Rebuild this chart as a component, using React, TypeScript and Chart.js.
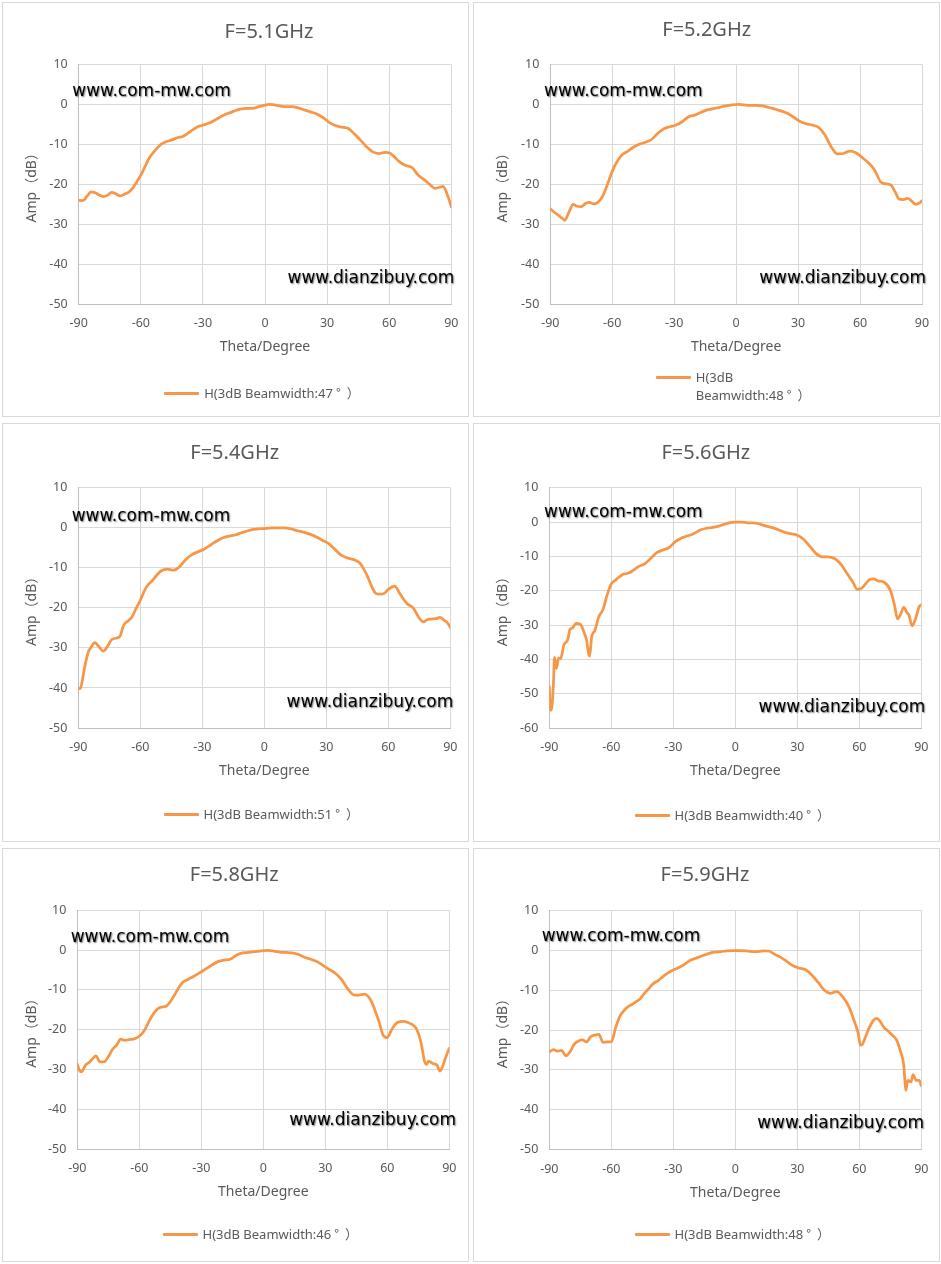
import React, { useEffect, useRef } from 'react';
import Chart from 'chart.js/auto';

const THETA_51 = [-90, -88, -86, -84, -82, -80, -78, -76, -74, -72, -70, -68, -66, -64, -62, -60, -58, -56, -54, -52, -50, -48, -45, -42, -40, -38, -35, -32, -30, -27, -24, -21, -18, -15, -12, -9, -6, -3, 0, 2, 4, 7, 10, 13, 16, 19, 22, 25, 28, 31, 34, 37, 40, 43, 46, 49, 52, 55, 58, 60, 62, 65, 68, 71, 74, 77, 80, 82, 84, 86, 88, 90];
const AMP_51 = [-24.0, -24.1, -23.0, -21.9, -22.1, -22.7, -23.1, -22.7, -22.0, -22.4, -22.9, -22.5, -22.0, -21.0, -19.4, -17.7, -15.6, -13.5, -12.1, -10.9, -9.9, -9.4, -8.9, -8.3, -8.1, -7.5, -6.4, -5.5, -5.2, -4.7, -3.9, -3.0, -2.3, -1.7, -1.2, -1.0, -1.0, -0.6, -0.2, 0, -0.1, -0.4, -0.6, -0.6, -0.9, -1.4, -1.9, -2.4, -3.3, -4.5, -5.3, -5.7, -6.0, -7.3, -8.9, -10.6, -11.9, -12.3, -12.0, -12.1, -12.9, -14.4, -15.3, -15.8, -17.7, -18.9, -20.2, -21.0, -20.8, -20.5, -22.5, -25.6];

const THETA_52 = [-90, -88, -86, -84, -83, -81, -79, -77, -75, -73, -71, -69, -67, -65, -63, -61, -59, -57, -55, -53, -50, -47, -44, -41, -38, -35, -32, -29, -26, -23, -20, -17, -14, -11, -8, -5, -2, 1, 4, 7, 10, 13, 16, 19, 22, 25, 28, 31, 34, 37, 40, 43, 46, 49, 52, 55, 58, 61, 64, 67, 70, 73, 75, 77, 79, 81, 83, 85, 87, 89, 90];
const AMP_52 = [-26.1, -27.0, -27.8, -28.6, -29.0, -27.0, -25.0, -25.5, -25.6, -24.8, -24.5, -24.9, -24.5, -23.3, -21.0, -18.1, -15.6, -13.8, -12.5, -11.9, -10.8, -10.0, -9.5, -8.8, -7.3, -6.1, -5.6, -5.2, -4.3, -3.1, -2.7, -2.0, -1.4, -1.1, -0.75, -0.4, -0.15, 0, -0.15, -0.25, -0.25, -0.4, -0.8, -1.25, -1.7, -2.3, -3.3, -4.3, -4.9, -5.2, -5.8, -7.7, -10.6, -12.4, -12.3, -11.7, -12.1, -13.3, -14.6, -16.4, -19.4, -19.9, -20.2, -21.9, -23.7, -23.8, -23.5, -24.2, -25.0, -24.6, -24.1];

const THETA_54 = [-90, -89, -88, -87, -86, -85, -84, -82, -80, -78, -76, -74, -72, -70, -68, -66, -64, -62, -60, -58, -56, -54, -52, -50, -47, -44, -41, -38, -35, -32, -29, -26, -23, -20, -17, -14, -11, -8, -5, -2, 1, 4, 7, 10, 13, 16, 19, 22, 25, 28, 31, 34, 37, 40, 43, 46, 48, 50, 52, 54, 56, 58, 60, 63, 66, 69, 72, 75, 77, 79, 81, 83, 85, 87, 89, 90];
const AMP_54 = [-40.2, -40.1, -38.0, -35.0, -32.6, -30.8, -30.0, -28.7, -29.7, -30.8, -29.7, -28.0, -27.6, -27.2, -24.3, -23.3, -22.2, -20.1, -18.1, -15.7, -14.1, -13.1, -11.8, -10.8, -10.3, -10.6, -9.7, -7.9, -6.7, -6.0, -5.3, -4.3, -3.3, -2.5, -2.1, -1.8, -1.25, -0.75, -0.4, -0.25, -0.15, 0, 0, 0, -0.3, -0.75, -1.1, -1.6, -2.25, -3.1, -3.9, -5.3, -6.8, -7.5, -7.9, -8.7, -10.2, -12.2, -14.7, -16.4, -16.6, -16.4, -15.4, -14.6, -16.8, -18.9, -20.0, -22.6, -23.5, -22.9, -22.8, -22.7, -22.4, -23.1, -24.0, -24.9];

const THETA_56 = [-90, -89.5, -89, -88, -87.5, -86.5, -85.5, -84.5, -83, -81, -80, -79, -77, -75, -73, -72, -71, -70.5, -69.5, -68, -66, -64, -62, -60, -58, -56, -54, -52, -50, -47, -44, -41, -38, -35, -32, -29, -26, -23, -20, -17, -14, -11, -8, -5, -2, 0, 3, 6, 9, 12, 15, 18, 21, 24, 27, 30, 33, 36, 39, 42, 45, 48, 51, 54, 57, 59, 61, 63, 65, 67, 69, 72, 75, 77, 78.5, 80, 81.5, 83, 84, 85.5, 87, 89, 90];
const AMP_56 = [-47.9, -54.7, -54.7, -46.9, -39.4, -42.6, -39.5, -39.7, -35.8, -34.1, -31.2, -30.9, -29.5, -29.7, -32.4, -34.3, -38.2, -39.0, -33.4, -31.6, -27.5, -25.4, -21.2, -18.0, -16.9, -15.9, -15.1, -14.9, -14.3, -13.0, -12.2, -10.6, -8.9, -8.1, -7.4, -5.7, -4.6, -4.0, -3.3, -2.3, -1.8, -1.55, -1.2, -0.6, -0.1, 0, 0, -0.2, -0.2, -0.6, -1.2, -1.6, -2.3, -3.0, -3.4, -3.8, -5.0, -7.0, -9.1, -10.1, -10.1, -10.6, -12.2, -14.9, -17.6, -19.6, -19.3, -18.0, -16.7, -16.5, -17.1, -17.5, -19.8, -24.1, -28.2, -26.8, -24.8, -26.3, -27.0, -30.2, -28.5, -24.6, -24.1];

const THETA_58 = [-90, -89, -88, -86, -84, -82, -81, -79, -77, -75, -73, -71, -69, -67, -65, -63, -61, -59, -57, -55, -53, -51, -49, -47, -45, -43, -41, -39, -37, -34, -31, -28, -25, -22, -19, -16, -13, -10, -7, -4, -1, 2, 5, 8, 11, 14, 17, 20, 23, 26, 29, 32, 35, 38, 41, 44, 46, 49, 52, 54, 56, 58, 60, 62, 64, 66, 68, 70, 72, 74, 76, 77, 78, 79, 80, 82, 84, 85.5, 87, 88.5, 90];
const AMP_58 = [-28.7, -30.2, -30.6, -28.9, -28.1, -27.0, -26.6, -28.1, -28.1, -26.8, -25.0, -23.9, -22.4, -22.7, -22.5, -22.4, -22.0, -21.2, -19.7, -17.6, -15.9, -14.7, -14.3, -14.1, -13.0, -11.3, -9.5, -8.1, -7.5, -6.7, -5.8, -4.8, -3.8, -2.9, -2.5, -2.3, -1.3, -0.7, -0.6, -0.4, -0.2, -0.1, -0.25, -0.5, -0.6, -0.7, -1.1, -1.8, -2.3, -2.9, -3.9, -4.9, -5.9, -7.5, -9.8, -11.3, -11.3, -11.1, -12.6, -15.1, -18.0, -21.4, -22.0, -20.1, -18.6, -18.0, -17.9, -18.2, -18.7, -19.7, -22.6, -25.1, -27.9, -28.7, -27.9, -28.5, -28.9, -30.4, -28.9, -26.6, -24.7];

const THETA_59 = [-90, -88, -86, -84, -82, -80, -78, -76, -74, -72, -70, -68, -66, -64, -62, -60, -58, -56, -54, -52, -50, -48, -46, -44, -42, -40, -37, -34, -31, -28, -25, -22, -19, -16, -13, -10, -7, -4, -1, 2, 5, 8, 11, 14, 16, 19, 22, 25, 28, 31, 34, 37, 40, 43, 46, 49, 52, 55, 58, 59.5, 60.5, 61.5, 63, 65, 67, 68.5, 70, 72, 74, 76, 78, 80, 81.5, 82, 82.5, 83.5, 85, 86, 87.5, 89, 90];
const AMP_59 = [-25.5, -24.9, -25.3, -25.1, -26.5, -25.5, -23.6, -22.8, -22.5, -23.0, -21.7, -21.3, -21.1, -23.1, -23.0, -23.0, -19.6, -16.7, -15.2, -14.2, -13.6, -12.9, -12.2, -10.8, -9.7, -8.5, -7.5, -6.2, -5.2, -4.5, -3.7, -2.6, -2.0, -1.4, -0.85, -0.5, -0.35, -0.15, -0.1, -0.1, -0.15, -0.35, -0.35, -0.15, -0.2, -1.0, -1.8, -2.85, -3.9, -4.5, -4.9, -6.2, -8.0, -10.0, -10.8, -10.4, -11.7, -14.2, -18.4, -20.9, -23.8, -23.6, -21.7, -19.2, -17.5, -17.1, -17.8, -19.4, -20.3, -21.3, -22.5, -25.5, -28.8, -32.2, -35.1, -32.6, -33.0, -31.2, -32.6, -32.6, -34.0];

const X_TICK_STEP = 30;
const Y_TICK_STEP = 10;
const Y_MAX = 10;

const ORANGE = '#F79646';
const GRID = '#D9D9D9';
const AXIS = '#BFBFBF';
const TEXT = '#595959';
const FONT = '"Noto Sans", "Noto Sans CJK SC", sans-serif';
const CJK_FONT = '"Noto Sans CJK SC", "Noto Sans", sans-serif';
const MARK_FONT = '"DejaVu Sans", Verdana, sans-serif';

const PANEL_W = 467;
const X_AXIS_H = 51.4;

interface PanelSpec {
  title: string;
  theta: number[];
  amp: number[];
  yMin: number;
  legend: string[];
  left: number;
  top: number;
  height: number;
  plotLeft: number;
  plotTop: number;
  plotW: number;
  plotH: number;
  titleX: number;
  titleY: number;
  legendY: number;
  comX: number;
  comY: number;
  dzRight: number;
  dzY: number;
}

const PANELS: PanelSpec[] = [
  {
    title: 'F=5.1GHz', theta: THETA_51, amp: AMP_51, yMin: -50, legend: ['H(3dB Beamwidth:47°）'],
    left: 2, top: 2, height: 415, plotLeft: 76.7, plotTop: 62.3, plotW: 372.6, plotH: 240,
    titleX: 267, titleY: 27.5, legendY: 391.3, comX: 70.3, comY: 87.5, dzRight: 452.3, dzY: 274.8,
  },
  {
    title: 'F=5.2GHz', theta: THETA_52, amp: AMP_52, yMin: -50, legend: ['H(3dB', 'Beamwidth:48°）'],
    left: 473, top: 2, height: 415, plotLeft: 77.3, plotTop: 62.3, plotW: 371.7, plotH: 240,
    titleX: 233.7, titleY: 25.5, legendY: 375.3, comX: 71, comY: 87.5, dzRight: 453, dzY: 274.5,
  },
  {
    title: 'F=5.4GHz', theta: THETA_54, amp: AMP_54, yMin: -50, legend: ['H(3dB Beamwidth:51°）'],
    left: 2, top: 423, height: 419, plotLeft: 76.3, plotTop: 64.7, plotW: 372, plotH: 240.3,
    titleX: 232.7, titleY: 27.5, legendY: 391.3, comX: 69.7, comY: 91.5, dzRight: 451.3, dzY: 278.1,
  },
  {
    title: 'F=5.6GHz', theta: THETA_56, amp: AMP_56, yMin: -60, legend: ['H(3dB Beamwidth:40°）'],
    left: 473, top: 423, height: 419, plotLeft: 76.3, plotTop: 64.7, plotW: 372, plotH: 240.6,
    titleX: 232.8, titleY: 27.5, legendY: 392, comX: 71, comY: 87.5, dzRight: 452.3, dzY: 282.5,
  },
  {
    title: 'F=5.8GHz', theta: THETA_58, amp: AMP_58, yMin: -50, legend: ['H(3dB Beamwidth:46°）'],
    left: 2, top: 848, height: 414, plotLeft: 75.3, plotTop: 62.3, plotW: 372, plotH: 238.7,
    titleX: 232.2, titleY: 25.3, legendY: 386, comX: 68.7, comY: 88.1, dzRight: 454, dzY: 271.1,
  },
  {
    title: 'F=5.9GHz', theta: THETA_59, amp: AMP_59, yMin: -50, legend: ['H(3dB Beamwidth:48°）'],
    left: 473, top: 848, height: 414, plotLeft: 76.3, plotTop: 62.3, plotW: 372, plotH: 239.4,
    titleX: 232, titleY: 25.3, legendY: 386, comX: 68.7, comY: 86.5, dzRight: 451, dzY: 274.1,
  },
];

const markStyle: React.CSSProperties = {
  position: 'absolute',
  fontFamily: MARK_FONT,
  fontSize: 17,
  color: '#000',
  textShadow: '1px 1px 1.5px rgba(0,0,0,0.55)',
  whiteSpace: 'nowrap',
  transform: 'translateY(-50%)',
  lineHeight: 'normal',
};

// the degree sign and closing bracket sit in wide boxes in the original
function legendLine(line: string) {
  const cut = line.indexOf('°');
  if (cut < 0) return line;
  return (
    <>
      {line.slice(0, cut)}
      <span style={{ fontFamily: CJK_FONT, marginLeft: 3, letterSpacing: 6 }}>{line.slice(cut)}</span>
    </>
  );
}

const PatternPanel: React.FC<{ spec: PanelSpec }> = ({ spec }) => {
  const canvasRef = useRef<HTMLCanvasElement | null>(null);

  useEffect(() => {
    if (!canvasRef.current) return;
    const tickFont = { family: FONT, size: 12.5 };
    const titleFont = { family: FONT, size: 14 };

    const chart = new Chart(canvasRef.current, {
      type: 'line',
      data: {
        datasets: [
          {
            label: spec.legend.join(' '),
            data: spec.theta.map((t, i) => ({ x: t, y: spec.amp[i] })),
            borderColor: ORANGE,
            backgroundColor: ORANGE,
            borderWidth: 2.75,
            borderCapStyle: 'round',
            borderJoinStyle: 'round',
            pointRadius: 0,
            cubicInterpolationMode: 'monotone',
            fill: false,
          },
        ],
      },
      options: {
        animation: false,
        responsive: true,
        maintainAspectRatio: false,
        layout: {
          padding: {
            left: 0,
            top: spec.plotTop,
            right: PANEL_W - spec.plotLeft - spec.plotW,
            bottom: spec.height - spec.plotTop - spec.plotH - X_AXIS_H,
          },
        },
        plugins: {
          legend: { display: false },
          title: { display: false },
          tooltip: { enabled: false },
        },
        scales: {
          x: {
            type: 'linear',
            min: -90,
            max: 90,
            ticks: { stepSize: X_TICK_STEP, color: TEXT, font: tickFont, padding: 12, maxRotation: 0, autoSkip: false },
            grid: { color: GRID, drawTicks: false },
            border: { color: AXIS },
            title: { display: true, text: 'Theta/Degree', color: TEXT, font: titleFont, padding: 0 },
            afterFit: (s: any) => {
              s.height = X_AXIS_H;
              s.paddingLeft = 0;
              s.paddingRight = 0;
            },
          },
          y: {
            type: 'linear',
            min: spec.yMin,
            max: Y_MAX,
            ticks: { stepSize: Y_TICK_STEP, color: TEXT, font: tickFont, padding: 11 },
            grid: { color: GRID, drawTicks: false },
            border: { color: AXIS },
            title: { display: true, text: 'Amp（dB）', color: TEXT, font: titleFont, padding: { top: 22, bottom: 0 } },
            afterFit: (s: any) => {
              s.width = spec.plotLeft;
              s.paddingTop = 0;
              s.paddingBottom = 0;
            },
          },
        },
      },
    });

    return () => {
      chart.destroy();
    };
  }, [spec]);

  return (
    <div
      style={{
        position: 'absolute',
        left: spec.left,
        top: spec.top,
        width: PANEL_W,
        height: spec.height,
        background: '#fff',
        boxShadow: 'inset 0 0 0 1px #D9D9D9',
      }}
    >
      <div style={{ position: 'absolute', left: 0, top: 0, width: PANEL_W, height: spec.height }}>
        <canvas ref={canvasRef} />
      </div>

      <div
        style={{
          position: 'absolute',
          left: spec.titleX,
          top: spec.titleY,
          transform: 'translate(-50%, -50%)',
          fontFamily: FONT,
          fontSize: 20,
          color: TEXT,
          whiteSpace: 'nowrap',
        }}
      >
        {spec.title}
      </div>

      <div style={{ ...markStyle, left: spec.comX, top: spec.comY }}>www.com-mw.com</div>
      <div style={{ ...markStyle, right: PANEL_W - spec.dzRight, top: spec.dzY }}>www.dianzibuy.com</div>

      <div
        style={{
          position: 'absolute',
          left: spec.plotLeft,
          width: spec.plotW,
          top: spec.legendY - 9,
          display: 'flex',
          justifyContent: 'center',
          alignItems: 'flex-start',
        }}
      >
        <div style={{ width: 35, height: 3, background: ORANGE, marginTop: 7.5, marginRight: 5, borderRadius: 1 }} />
        <div style={{ fontFamily: FONT, fontSize: 13, lineHeight: '18px', color: TEXT, whiteSpace: 'nowrap' }}>
          {spec.legend.map((line, i) => (
            <div key={i}>{legendLine(line)}</div>
          ))}
        </div>
      </div>
    </div>
  );
};

export default function App() {
  return (
    <div style={{ position: 'absolute', left: 0, top: 0, width: 941, height: 1264, background: '#fff' }}>
      {PANELS.map((p) => (
        <PatternPanel key={p.title + p.left} spec={p} />
      ))}
    </div>
  );
}
